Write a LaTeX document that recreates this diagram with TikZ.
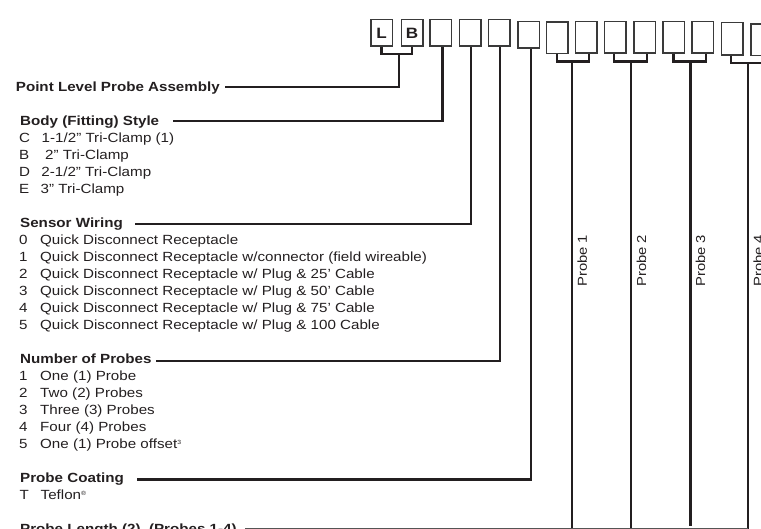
\documentclass[tikz,border=0pt]{standalone}
\usepackage{fontspec}
\setmainfont{Liberation Sans}[FakeStretch=1.14]
\usetikzlibrary{calc}
\definecolor{ink}{HTML}{231F20}
\definecolor{boxc}{HTML}{3A3A3A}
\definecolor{thinc}{HTML}{555555}
\tikzset{
  hdr/.style={anchor=base west, inner sep=0pt, font=\bfseries\fontsize{13.3}{17}\selectfont, text=ink},
  itm/.style={anchor=base west, inner sep=0pt, font=\fontsize{13.3}{17}\selectfont, text=ink},
  conn/.style={draw=ink, line width=2.4pt},
  thinl/.style={draw=thinc, line width=1.2pt},
  digit/.style={draw=boxc, line width=1.5pt, minimum width=21.5pt, minimum height=26.5pt, inner sep=0pt,
     font=\bfseries\fontsize{15}{15}\selectfont, text=ink},
  tallbox/.style={digit, minimum height=31.5pt},
  plab/.style={rotate=90, anchor=north west, inner sep=0pt, font=\fontsize{13}{15}\selectfont, text=ink}
}
\newcommand{\sups}[1]{\raisebox{4.5pt}{\fontsize{6}{6}\selectfont #1}}
\begin{document}
\begin{tikzpicture}[x=1pt,y=-1pt]
\useasboundingbox (0,0) rectangle (761,529);
\clip (0,0) rectangle (761,529);

% boxes
\node[digit] (b1) at (381.5,33) {L};
\node[digit] (b2) at (412,33) {B};
\node[digit] (b3) at (440.8,33) {};
\node[digit] (b4) at (470.2,33) {};
\node[digit] (b5) at (499.2,33) {};
\node[digit] (b6) at (528.5,34.8) {};
\node[tallbox] (b7) at (557,37.8) {};
\node[tallbox] (b8) at (586.2,37.4) {};
\node[tallbox] (b9) at (615.2,37.4) {};
\node[tallbox] (b10) at (644.5,37.4) {};
\node[tallbox] (b11) at (673.5,37.4) {};
\node[tallbox] (b12) at (702.8,37.4) {};
\node[tallbox, minimum height=32.5pt] (b13) at (732.2,38.7) {};
\node[tallbox] (b14) at (761.8,39.7) {};

% headers and items
\node[hdr] (h0) at (15.7,91.8) {Point Level Probe Assembly};
\node[hdr] (h1) at (20,125.8) {Body (Fitting) Style};
\node[itm] (c1) at (19,142.8) {C};  \node[itm] (t1) at (41.5,142.8) {1-1/2” Tri-Clamp (1)};
\node[itm] (c2) at (19,159.8) {B};  \node[itm] (t2) at (45,159.8) {2” Tri-Clamp};
\node[itm] (c3) at (19,176.8) {D};  \node[itm] (t3) at (41.2,176.8) {2-1/2” Tri-Clamp};
\node[itm] (c4) at (19,193.8) {E};  \node[itm] (t4) at (40.5,193.8) {3” Tri-Clamp};

\node[hdr] (h2) at (20,227.8) {Sensor Wiring};
\node[itm] (d0) at (19,244.8) {0}; \node[itm] (e0) at (40,244.8) {Quick Disconnect Receptacle};
\node[itm] (d1) at (19,261.8) {1}; \node[itm] (e1) at (40,261.8) {Quick Disconnect Receptacle w/connector (field wireable)};
\node[itm] (d2) at (19,278.8) {2}; \node[itm] (e2) at (40,278.8) {Quick Disconnect Receptacle w/ Plug \& 25’ Cable};
\node[itm] (d3) at (19,295.8) {3}; \node[itm] (e3) at (40,295.8) {Quick Disconnect Receptacle w/ Plug \& 50’ Cable};
\node[itm] (d4) at (19,312.8) {4}; \node[itm] (e4) at (40,312.8) {Quick Disconnect Receptacle w/ Plug \& 75’ Cable};
\node[itm] (d5) at (19,329.8) {5}; \node[itm] (e5) at (40,329.8) {Quick Disconnect Receptacle w/ Plug \& 100 Cable};

\node[hdr] (h3) at (20,363.8) {Number of Probes};
\node[itm] (n1) at (19,380.8) {1}; \node[itm] (m1) at (40,380.8) {One (1) Probe};
\node[itm] (n2) at (19,397.8) {2}; \node[itm] (m2) at (40,397.8) {Two (2) Probes};
\node[itm] (n3) at (19,414.8) {3}; \node[itm] (m3) at (40,414.8) {Three (3) Probes};
\node[itm] (n4) at (19,431.8) {4}; \node[itm] (m4) at (40,431.8) {Four (4) Probes};
\node[itm] (n5) at (19,448.8) {5}; \node[itm] (m5) at (40,448.8) {One (1) Probe offset\sups{3}};

\node[hdr] (h4) at (20,482.8) {Probe Coating};
\node[itm] (tt) at (19.5,499.8) {T}; \node[itm] (tf) at (40.5,499.8) {Teflon\sups{\textregistered}};

\node[hdr] (h5) at (20,533.8) {Probe Length (2), (Probes 1-4)};

% line start coordinates
\coordinate (s0) at (225,87.3);
\coordinate (s1) at (173,121);
\coordinate (s2) at (135,224);
\coordinate (s3) at (156,361);
\coordinate (s4) at (136.7,479.3);
\coordinate (s5) at (245,528.3);

% L-B bracket
\coordinate (jlb) at (399,54.3);
\draw[conn] (b1.south) |- (jlb) -| (b2.south);
\draw[conn] (jlb) |- (s0);

% single box connectors
\draw[conn] ([xshift=1.5pt]b3.south) |- (s1);
\draw[conn] ([xshift=0.5pt]b4.south) |- (s2);
\draw[conn] ([xshift=0.8pt]b5.south) |- (s3);
\draw[conn] ([xshift=2.5pt]b6.south) |- (s4);

% probe brackets
\coordinate (j1) at (572,61.7);
\coordinate (j2) at (631.2,61.7);
\coordinate (j3) at (690.3,61.7);
\coordinate (j4) at (747.7,63.3);
\draw[conn] (b7.south) |- (j1) -| ([xshift=3pt]b8.south);
\draw[conn] ([xshift=-1pt]b9.south) |- (j2) -| ([xshift=2.5pt]b10.south);
\draw[conn] (b11.south) |- (j3) -| ([xshift=3pt]b12.south);
\draw[conn] ([xshift=-1pt]b13.south) |- (j4) -| ([xshift=2.5pt]b14.south);

\coordinate (p1) at (572,530);
\coordinate (p2) at (631.2,530);
\coordinate (p3) at (690.3,525.7);
\coordinate (p4) at (747.7,530);
\draw[conn] (j1) -- (p1);
\draw[conn] (j2) -- (p2);
\draw[conn] (j3) -- (p3);
\draw[conn] (j4) -- (p4);

% bottom line
\coordinate (p4b) at (747.7,528.3);
\draw[thinl] (s5) -- (p4b);

% probe labels
\node[plab] (l1) at (577.3,287) {Probe 1};
\node[plab] (l2) at (636.5,287) {Probe 2};
\node[plab] (l3) at (695.6,287) {Probe 3};
\node[plab] (l4) at (753.2,287) {Probe 4};
\end{tikzpicture}
\end{document}
